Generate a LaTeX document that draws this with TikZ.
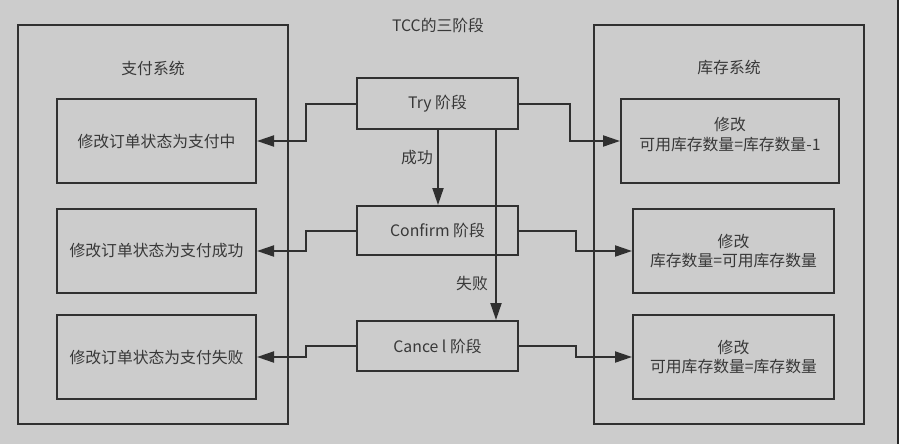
\documentclass[tikz,border=0pt]{standalone}
\usepackage{fontspec}
\setmainfont{Noto Sans CJK SC}
\usetikzlibrary{arrows.meta}
\definecolor{bg}{HTML}{CCCCCC}
\definecolor{ln}{HTML}{303030}
\definecolor{tx}{HTML}{383838}
\begin{document}
\begin{tikzpicture}[x=1pt,y=-1pt,
  every node/.style={font=\fontsize{15.8}{19.5}\selectfont, text=tx},
  box/.style={draw=ln, line width=2pt, inner sep=0pt, align=center},
  wire/.style={draw=ln, line width=2pt},
  conn/.style={wire, -{Triangle[length=17pt,width=11pt]}}]
\fill[bg] (0,0) rectangle (899,444);
\useasboundingbox (0,0) rectangle (899,444);
\fill[black!85] (896.8,0) rectangle (899,444);

% title
\node (title) at (438,25) {TCC的三阶段};

% outer systems
\node[box, minimum width=270pt, minimum height=399pt] (pay) at (153,224.5) {};
\node (payl) at (153,68) {支付系统};
\node[box, minimum width=270pt, minimum height=399pt] (inv) at (729,224.5) {};
\node (invl) at (729,68) {库存系统};

% left inner boxes
\node[box, minimum width=199pt, minimum height=84pt] (L1) at (156.5,141) {修改订单状态为支付中};
\node[box, minimum width=199pt, minimum height=84pt] (L2) at (156.5,251) {修改订单状态为支付成功};
\node[box, minimum width=199pt, minimum height=84pt] (L3) at (156.5,357) {修改订单状态为支付失败};

% right inner boxes
\node[box, minimum width=218pt, minimum height=84pt] (R1) at (730,141) {};
\node[align=center] (R1t) at (730,134.5) {修改\\可用库存数量=库存数量-1};
\node[box, minimum width=201pt, minimum height=84pt] (R2) at (733.5,251) {修改\\库存数量=可用库存数量};
\node[box, minimum width=201pt, minimum height=84pt] (R3) at (733.5,357) {修改\\可用库存数量=库存数量};

% phase boxes
\node[box, minimum width=161pt, minimum height=51pt] (try) at (437.5,103.5) {Try 阶段};
\node[box, minimum width=161pt, minimum height=49pt] (confirm) at (437.5,230.5) {Confirm 阶段};
\node[box, minimum width=161pt, minimum height=50pt] (cancel) at (437.5,346) {Cance l 阶段};

% connectors
\draw[conn] (try.west) -- ++(-50,0) |- (L1.east);
\draw[conn] (try.east) -- ++(51,0) |- (R1.west);
\draw[conn] (confirm.west) -- ++(-50,0) |- (L2.east);
\draw[conn] (confirm.east) -- ++(57,0) |- (R2.west);
\draw[conn] (cancel.west) -- ++(-50,0) |- (L3.east);
\draw[conn] (cancel.east) -- ++(57,0) |- (R3.west);

\draw[conn] ([xshift=0.5pt]try.south) -- ([xshift=0.5pt]confirm.north);
\draw[conn] ([xshift=58.5pt]try.south) -- ([xshift=58.5pt]cancel.north);

\node (ok) at (417,158) {成功};
\node (fail) at (472,284) {失败};
\end{tikzpicture}
\end{document}
